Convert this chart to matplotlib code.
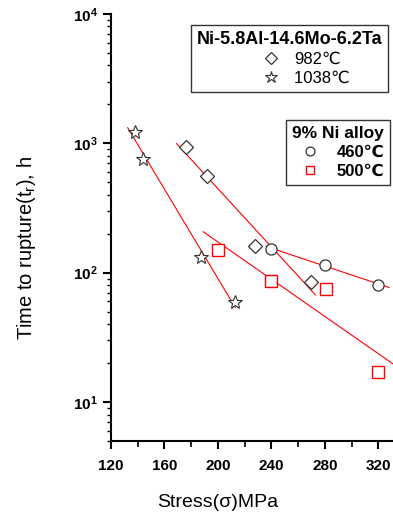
import numpy as np
import matplotlib
matplotlib.use("Agg")
import matplotlib.pyplot as plt
from matplotlib.ticker import LogLocator, MultipleLocator, NullFormatter

plt.rcParams['font.family'] = ['Liberation Sans', 'DejaVu Sans']
plt.rcParams['mathtext.fontset'] = 'custom'
plt.rcParams['mathtext.rm'] = 'Liberation Sans'
plt.rcParams['mathtext.it'] = 'Liberation Sans'
plt.rcParams['mathtext.bf'] = 'Liberation Sans:bold'
plt.rcParams['mathtext.default'] = 'bf'

# Data (Stress MPa, time to rupture h)
d982_x = [176, 192, 228, 270]
d982_y = [930, 560, 162, 85]
s1038_x = [138, 144, 187, 213]
s1038_y = [1225, 750, 133, 59]
c460_x = [240, 280, 320]
c460_y = [153, 115, 81]
q500_x = [200, 240, 281, 320]
q500_y = [150, 86, 75, 17]

# fit-line extents
fit_ranges = {
    'd982': (169, 273),
    's1038': (132.5, 213),
    'c460': (236, 328),
    'q500': (189, 331),
}

fig = plt.figure(figsize=(3.93, 5.13), dpi=100)
ax = fig.add_axes([0.2824, 0.1404, 0.7176, 0.8324])

def fit_line(xs, ys, rng):
    p = np.polyfit(xs, np.log10(ys), 1)
    xx = np.linspace(rng[0], rng[1], 50)
    ax.plot(xx, 10 ** np.polyval(p, xx), color='red', lw=0.8, zorder=2)

fit_line(d982_x, d982_y, fit_ranges['d982'])
fit_line(s1038_x, s1038_y, fit_ranges['s1038'])
fit_line(c460_x, c460_y, fit_ranges['c460'])
fit_line(q500_x, q500_y, fit_ranges['q500'])

h1, = ax.plot(d982_x, d982_y, 'D', ms=7, mfc='white', mec='#333333', mew=0.9, ls='none', zorder=3)
h2, = ax.plot(s1038_x, s1038_y, '*', ms=10.5, mfc='white', mec='#333333', mew=0.8, ls='none', zorder=3)
h3, = ax.plot(c460_x, c460_y, 'o', ms=8, mfc='white', mec='#333333', mew=0.9, ls='none', zorder=3)
h4, = ax.plot(q500_x, q500_y, 's', ms=8, mfc='white', mec='red', mew=1.0, ls='none', zorder=3)

ax.set_yscale('log')
ax.set_ylim(5, 1e4)
ax.set_xlim(120, 331)
ax.xaxis.set_major_locator(MultipleLocator(40))
ax.xaxis.set_minor_locator(MultipleLocator(20))
ax.yaxis.set_major_locator(LogLocator(base=10, numticks=10))
ax.yaxis.set_minor_locator(LogLocator(base=10, subs=np.arange(2, 10), numticks=20))
ax.yaxis.set_minor_formatter(NullFormatter())

for s in ['top', 'right']:
    ax.spines[s].set_visible(False)
for s in ['left', 'bottom']:
    ax.spines[s].set_linewidth(1.5)
ax.tick_params(which='major', direction='out', length=6, width=1.5, labelsize=11)
ax.tick_params(axis='x', which='major', pad=7)
ax.tick_params(which='minor', direction='out', length=4, width=1.2)
ax.tick_params(axis='y', which='minor', length=3, width=1.0)
for lab in ax.get_xticklabels() + ax.get_yticklabels():
    lab.set_fontweight('bold')

ax.set_xlabel('Stress(σ)MPa', fontsize=14)
ax.xaxis.set_label_coords(0.38, -0.125)
ax.set_ylabel(r'Time to rupture(t$_\mathrm{r}$), h', fontsize=14.5)
ax.yaxis.set_label_coords(-0.26, 0.452)

leg1 = ax.legend([h1, h2], ['982℃', '1038℃' + ' ' * 7], title='Ni-5.8Al-14.6Mo-6.2Ta',
                 loc='upper right', bbox_to_anchor=(0.982, 0.974),
                 prop={'size': 12}, title_fontsize=13, frameon=True, fancybox=False,
                 edgecolor='black', handlelength=1.0, handletextpad=0.9, borderpad=0.35,
                 labelspacing=0.25, alignment='right', borderaxespad=0, markerscale=0.85)
leg1.get_frame().set_linewidth(1.0)
leg1.get_title().set_fontweight('bold')
ax.add_artist(leg1)

leg2 = ax.legend([h3, h4], ['460℃', '500℃'], title='9% Ni alloy',
                 loc='upper right', bbox_to_anchor=(0.989, 0.752),
                 prop={'weight': 'bold', 'size': 12}, title_fontsize=12.5, frameon=True,
                 fancybox=False, edgecolor='black', handlelength=1.0, handletextpad=1.1,
                 borderpad=0.35, labelspacing=0.25, alignment='right', borderaxespad=0,
                 markerscale=0.8)
leg2.get_frame().set_linewidth(1.0)
leg2.get_title().set_fontweight('bold')

fig.savefig('out.png', dpi=100)
